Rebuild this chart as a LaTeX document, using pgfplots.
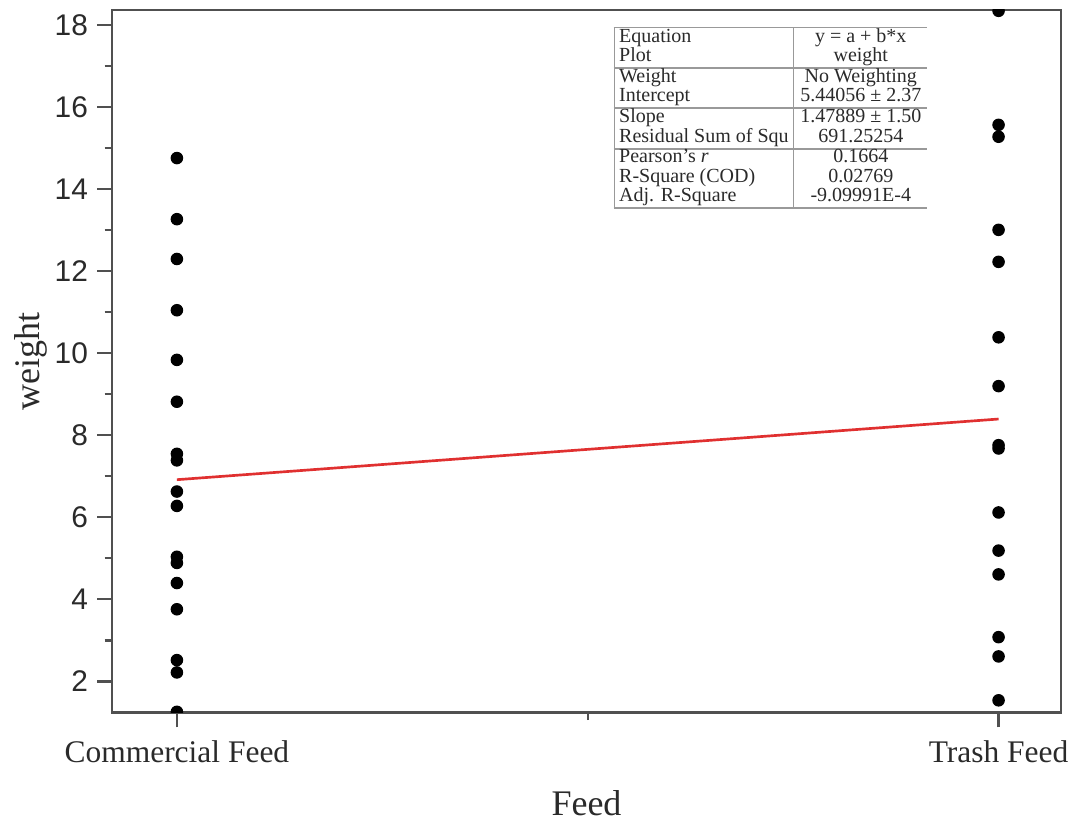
\documentclass[border=0pt]{standalone}
\usepackage{fontspec}
\setmainfont{Liberation Serif}
\newfontfamily\arialf{Liberation Sans}
\usepackage{pgfplots}
\pgfplotsset{compat=1.18}
\usepackage{array}
\usepackage{colortbl}
\usetikzlibrary{calc}
\definecolor{axgray}{HTML}{505050}
\definecolor{regred}{HTML}{E03030}
\definecolor{txt}{HTML}{2A2A2A}
\begin{document}
\begin{tikzpicture}
\begin{axis}[
  scale only axis, width=355.9pt, height=263.5pt,
  xmin=0.921, xmax=2.076, ymin=1.24, ymax=18.37,
  xtick={1,2}, xticklabels={Commercial Feed, Trash Feed},
  minor xtick={1.5},
  ytick={2,4,...,18}, minor ytick={3,5,...,17},
  tick align=outside, tick pos=left,
  major tick length=5.5pt, minor tick length=2.8pt,
  axis line style={axgray, line width=1.1pt},
  tick style={axgray, line width=0.8pt},
  /pgf/number format/assume math mode=true,
  yticklabel style={font=\arialf\fontsize{11.2}{13}\selectfont, text=txt},
  xticklabel style={font=\fontsize{11.8}{14}\selectfont, text=txt, yshift=-1.5pt},
  xlabel={Feed}, ylabel={weight},
  label style={font=\fontsize{13.5}{16}\selectfont, text=txt},
  xlabel style={at={(axis description cs:0.5,-0.147)}, anchor=base},
  ylabel style={at={(axis description cs:-0.076,0.5)}, anchor=base},
  clip marker paths=true,
]
\coordinate (bl) at (rel axis cs:0,0);
\coordinate (tr) at (rel axis cs:1,1);
\addplot[regred, line width=1pt] coordinates {(1,6.919) (2,8.398)};
\addplot[only marks, mark=*, mark size=2.15pt, black] table {
x y
1 14.76
1 13.27
1 12.30
1 11.05
1 9.84
1 8.82
1 7.55
1 7.39
1 6.63
1 6.28
1 5.04
1 4.89
1 4.40
1 3.76
1 2.52
1 2.22
1 1.26
};
\addplot[only marks, mark=*, mark size=2.15pt, black] table {
x y
2 18.35
2 15.57
2 15.28
2 13.01
2 12.23
2 10.39
2 9.20
2 7.76
2 7.68
2 6.12
2 5.19
2 4.61
2 3.08
2 2.61
2 1.54
};
\node[anchor=north west, inner sep=0pt] at (rel axis cs:0.528,0.977) {%
  \fontsize{7.5}{7.0}\selectfont\color{txt}%
  \arrayrulecolor{gray!80}\setlength{\arrayrulewidth}{0.6pt}%
  \renewcommand{\arraystretch}{1}\setlength{\tabcolsep}{0pt}%
  \begin{tabular}{|@{\hspace{1.5pt}}p{65pt}|>{\centering\arraybackslash}p{50pt}}
  \hline
  Equation & y = a + b*x\\
  Plot & weight\\ \hline
  Weight & No Weighting\\
  Intercept & 5.44056 ± 2.37\\ \hline
  Slope & 1.47889 ± 1.50\\
  Residual Sum of Squ & 691.25254\\ \hline
  Pearson's \textit{r} & 0.1664\\
  R-Square (COD) & 0.02769\\
  Adj. R-Square & -9.09991E-4\\ \hline
  \end{tabular}};
\end{axis}
\pgfresetboundingbox
\path ($(bl)+(-42pt,-40.6pt)$) rectangle ($(tr)+(3pt,3.75pt)$);
\end{tikzpicture}
\end{document}
